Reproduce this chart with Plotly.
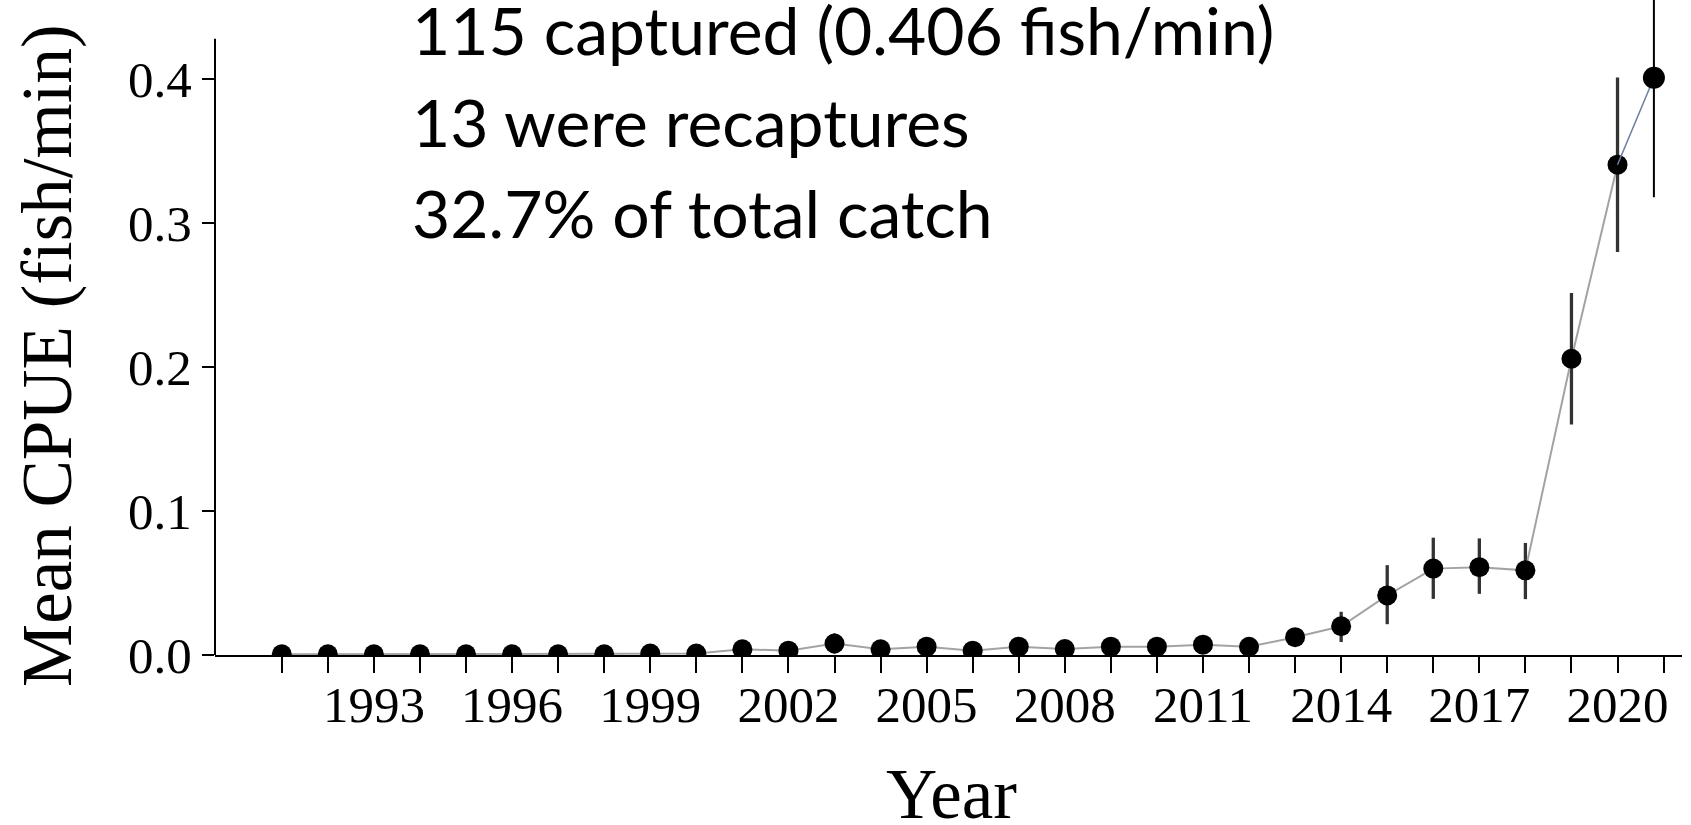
import plotly.graph_objects as go

years = list(range(1991, 2021))
cpue = [0.0005, 0.0005, 0.0005, 0.0005, 0.0005, 0.0005, 0.0005, 0.0005, 0.001, 0.001,
        0.004, 0.003, 0.008, 0.004, 0.0058, 0.003, 0.0058, 0.0042, 0.0058, 0.0058,
        0.0072, 0.0057, 0.0124, 0.020, 0.0414, 0.060, 0.061, 0.0588, 0.2058, 0.3406]
err_plus = [0.001, 0.001, 0.001, 0.001, 0.001, 0.001, 0.001, 0.001, 0.001, 0.001,
            0.002, 0.002, 0.007, 0.002, 0.003, 0.002, 0.003, 0.002, 0.003, 0.003,
            0.003, 0.003, 0.003, 0.010, 0.021, 0.0215, 0.020, 0.019, 0.0456, 0.0605]
err_minus = [0.001, 0.001, 0.001, 0.001, 0.001, 0.001, 0.001, 0.001, 0.001, 0.001,
             0.002, 0.002, 0.007, 0.002, 0.003, 0.002, 0.003, 0.002, 0.003, 0.003,
             0.003, 0.003, 0.003, 0.011, 0.020, 0.021, 0.0185, 0.020, 0.0456, 0.0607]

new_year = [2020.79]
new_cpue = [0.401]
new_err = [0.083]

link_x = [2020, 2020.79]
link_y = [0.3406, 0.401]

tick_years = list(range(1991, 2022))
tick_labels = [str(y) if (y - 1993) % 3 == 0 and y >= 1993 else "" for y in tick_years]
y_ticks = [0.0, 0.1, 0.2, 0.3, 0.4]
y_tick_labels = ["0.0", "0.1", "0.2", "0.3", "0.4"]
y_axis_top = 0.428

notes = ["115 captured (0.406 fish/min)", "13 were recaptures", "32.7% of total catch"]

serif = "Liberation Serif, Times New Roman, serif"

# plot area in page pixels: x 215..1682, y 0..655
PL, PR, PT, PB = 215, 1682, 0, 655
PW, PH = PR - PL, PB - PT

fig = go.Figure()
fig.add_trace(go.Scatter(
    x=years, y=cpue, mode="lines+markers",
    line=dict(color="#a3a3a3", width=2),
    marker=dict(color="black", size=20),
    error_y=dict(type="data", array=err_plus, arrayminus=err_minus,
                 color="#333333", thickness=3.3, width=0),
    cliponaxis=True, showlegend=False,
))
fig.add_trace(go.Scatter(
    x=link_x, y=link_y, mode="lines",
    line=dict(color="#6a7d9c", width=1.5),
    cliponaxis=False, showlegend=False,
))
fig.add_trace(go.Scatter(
    x=new_year, y=new_cpue, mode="markers",
    marker=dict(color="black", size=22),
    error_y=dict(type="data", array=new_err, color="black", thickness=2, width=0),
    cliponaxis=False, showlegend=False,
))

fig.update_layout(
    width=1691, height=825,
    margin=dict(l=PL, r=1691 - PR, t=PT, b=825 - PB),
    paper_bgcolor="white", plot_bgcolor="white",
    xaxis=dict(
        range=[1989.55, 2021.4], tickvals=tick_years, ticktext=tick_labels,
        ticks="outside", ticklen=16, tickwidth=2, tickcolor="black",
        showline=True, linecolor="black", linewidth=2,
        showgrid=False, zeroline=False, ticklabelstandoff=-12,
        tickfont=dict(family=serif, size=51, color="black"),
    ),
    yaxis=dict(
        range=[0, 655 / 1439.6], tickvals=y_ticks, ticktext=y_tick_labels,
        ticks="outside", ticklen=12, tickwidth=2, tickcolor="black",
        showline=False, showgrid=False, zeroline=False,
        tickfont=dict(family=serif, size=51, color="black"),
    ),
)
# visible y-axis line (stops below the top of the plotting region)
fig.add_shape(type="line", xref="paper", yref="y", x0=0, x1=0, y0=0, y1=y_axis_top,
              line=dict(color="black", width=2))

fig.add_annotation(text="Year", xref="paper", yref="paper",
                   x=(951 - PL) / PW, y=-(794 - PB) / PH,
                   xanchor="center", yanchor="middle", showarrow=False,
                   font=dict(family=serif, size=71, color="black"))
fig.add_annotation(text="Mean CPUE (fish/min)", xref="paper", yref="paper",
                   x=-(PL - 47) / PW, y=(PB - 356) / PH, textangle=-90,
                   xanchor="center", yanchor="middle", showarrow=False,
                   font=dict(family=serif, size=71, color="black"))

for i, t in enumerate(notes):
    cy = 29 + i * 92
    fig.add_annotation(text=t, xref="paper", yref="paper",
                       x=(410 - PL) / PW, y=(PB - cy) / PH,
                       xanchor="left", yanchor="middle", showarrow=False,
                       font=dict(family="Lato, sans-serif", size=66, color="black"))

fig.write_html("out.html", config={"displayModeBar": False},
               post_script="document.body.style.margin='0';")
